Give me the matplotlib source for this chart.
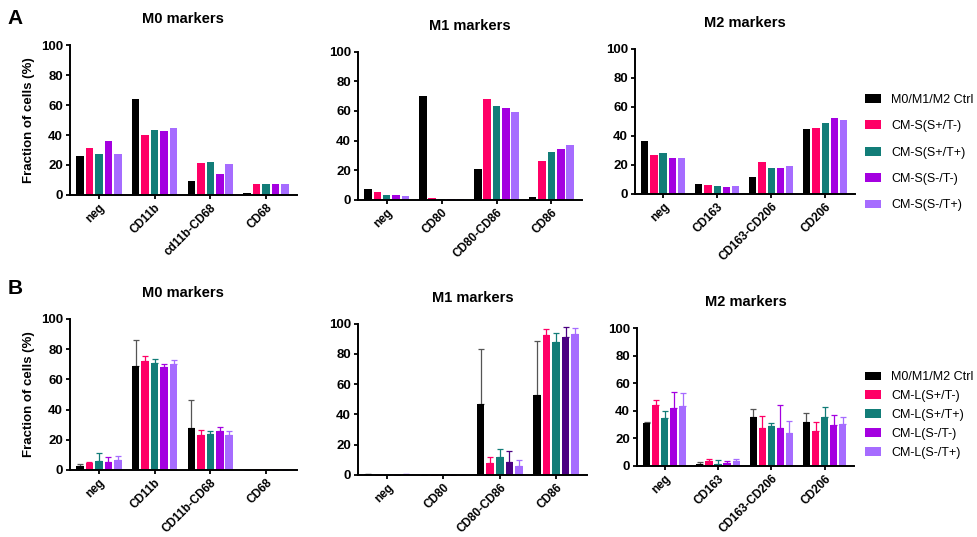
import numpy as np
import matplotlib
matplotlib.use("Agg")
import matplotlib.pyplot as plt

plt.rcParams['font.family'] = ['Liberation Sans', 'DejaVu Sans']

# groups / colours
colors = ['#000000', '#FF0066', '#127D78', '#A400E0', '#A66CFF']
colors_b_m1 = ['#000000', '#FF0066', '#127D78', '#4B0082', '#A66CFF']
legend_a = ['M0/M1/M2 Ctrl', 'CM-S(S+/T-)', 'CM-S(S+/T+)', 'CM-S(S-/T-)', 'CM-S(S-/T+)']
legend_b = ['M0/M1/M2 Ctrl', 'CM-L(S+/T-)', 'CM-L(S+/T+)', 'CM-L(S-/T-)', 'CM-L(S-/T+)']

# Row A categories and values (rows = marker group, cols = condition)
a_m0_cats = ['neg', 'CD11b', 'cd11b-CD68', 'CD68']
a_m0 = [[26, 31, 27, 36, 27],
        [64, 40, 43.5, 42.5, 44.5],
        [9, 21, 22, 14, 20.5],
        [1, 7, 7, 7, 7]]
a_m1_cats = ['neg', 'CD80', 'CD80-CD86', 'CD86']
a_m1 = [[7, 5, 3.5, 3, 2.8],
        [70, 1, 0.3, 0.3, 0.3],
        [20.5, 68, 63.5, 62, 59.5],
        [1.8, 26, 32, 34.5, 37]]
a_m2_cats = ['neg', 'CD163', 'CD163-CD206', 'CD206']
a_m2 = [[36.5, 27, 28, 25, 25],
        [7, 6, 5.5, 4.5, 5.5],
        [11.5, 22, 17.5, 18, 19],
        [45, 45.5, 49, 52.5, 51]]

# Row B categories, means and upper errors
b_m0_cats = ['neg', 'CD11b', 'CD11b-CD68', 'CD68']
b_m0 = [[2.5, 4.5, 6, 5.5, 6.5],
        [69, 72, 70.5, 68.5, 70],
        [28, 23, 23.5, 25.5, 23],
        [0, 0, 0.2, 0.2, 0.2]]
b_m0_err = [[1.5, 1, 5, 3, 3],
            [17, 3.5, 3, 1.5, 3],
            [18, 3.5, 2, 3, 3],
            [0, 0, 0, 0, 0]]
b_m1_cats = ['neg', 'CD80', 'CD80-CD86', 'CD86']
b_m1 = [[0.3, 0, 0.1, 0, 0.2],
        [0, 0, 0, 0, 0],
        [47, 7.5, 11.5, 8.5, 6],
        [52.5, 92.5, 88, 91, 93.5]]
b_m1_err = [[0, 0, 0, 0, 0],
            [0, 0, 0, 0, 0],
            [36.5, 4, 5.5, 7, 4],
            [36, 4, 6, 7, 4]]
b_m2_cats = ['neg', 'CD163', 'CD163-CD206', 'CD206']
b_m2 = [[31, 44, 34.5, 42, 43],
        [1, 3.5, 1.5, 2, 3],
        [35.5, 27, 28.5, 27, 24],
        [31.5, 25.5, 35.5, 29.5, 30]]
b_m2_err = [[0.5, 3.5, 5, 11.5, 9.5],
            [1.5, 1.5, 2.5, 1.5, 1.5],
            [6, 9, 2.5, 17, 8.5],
            [7, 6, 7, 7, 5]]

fig = plt.figure(figsize=(9.77, 5.37), dpi=100)


def panel(rect, cats, vals, title, err=None, cols=colors, labels=None, ylabel=False):
    ax = fig.add_axes(rect)
    vals = np.array(vals)
    x = np.arange(len(cats))
    step = 0.17
    for i in range(vals.shape[1]):
        xs = x + (i - 2) * step
        ax.bar(xs, vals[:, i], width=0.135, color=cols[i],
               label=labels[i] if labels else None, zorder=2)
        if err is not None:
            e = np.array(err)[:, i]
            ecol = '#555555' if i == 0 else cols[i]
            ax.errorbar(xs, vals[:, i], yerr=[np.zeros_like(e), e], fmt='none',
                        ecolor=ecol, elinewidth=0.9, capsize=2, capthick=0.9, zorder=1)
    ax.set_xlim(-0.52, 3.55)
    ax.set_ylim(0, 100)
    ax.set_yticks([0, 20, 40, 60, 80, 100])
    ax.set_xticks(x)
    ax.set_xticklabels(cats, rotation=45, ha='right', rotation_mode='anchor',
                       fontweight='bold', fontsize=8.5)
    for t in ax.get_yticklabels():
        t.set_fontweight('bold')
        t.set_fontsize(9.5)
    ax.tick_params(width=1.3, length=3, pad=2)
    for s in ['top', 'right']:
        ax.spines[s].set_visible(False)
    for s in ['left', 'bottom']:
        ax.spines[s].set_linewidth(1.4)
    ax.set_title(title, fontweight='bold', fontsize=10.5, pad=16)
    if ylabel:
        ax.set_ylabel('Fraction of cells (%)', fontweight='bold', fontsize=9.5)
    return ax


ax1 = panel([0.0716, 0.637, 0.232, 0.279], a_m0_cats, a_m0, 'M0 markers',
            labels=legend_a, ylabel=True)
panel([0.3664, 0.628, 0.229, 0.2756], a_m1_cats, a_m1, 'M1 markers')
panel([0.650, 0.639, 0.225, 0.270], a_m2_cats, a_m2, 'M2 markers')

ax4 = panel([0.0716, 0.125, 0.232, 0.281], b_m0_cats, b_m0, 'M0 markers',
            err=b_m0_err, labels=legend_b, ylabel=True)
panel([0.3664, 0.116, 0.2344, 0.281], b_m1_cats, b_m1, 'M1 markers',
      err=b_m1_err, cols=colors_b_m1)
panel([0.652, 0.133, 0.222, 0.256], b_m2_cats, b_m2, 'M2 markers', err=b_m2_err)

h, l = ax1.get_legend_handles_labels()
fig.legend(h, l, loc='center left', bbox_to_anchor=(0.885, 0.716), frameon=False,
           fontsize=9, handlelength=1.3, handleheight=0.7, labelspacing=1.15,
           borderaxespad=0, borderpad=0, handletextpad=0.8)
h, l = ax4.get_legend_handles_labels()
fig.legend(h, l, loc='center left', bbox_to_anchor=(0.885, 0.227), frameon=False,
           fontsize=9, handlelength=1.3, handleheight=0.7, labelspacing=0.55,
           borderaxespad=0, borderpad=0, handletextpad=0.8)

fig.text(0.008, 0.965, 'A', fontsize=15, fontweight='bold', va='center')
fig.text(0.008, 0.463, 'B', fontsize=15, fontweight='bold', va='center')

fig.savefig('out.png', dpi=100)
